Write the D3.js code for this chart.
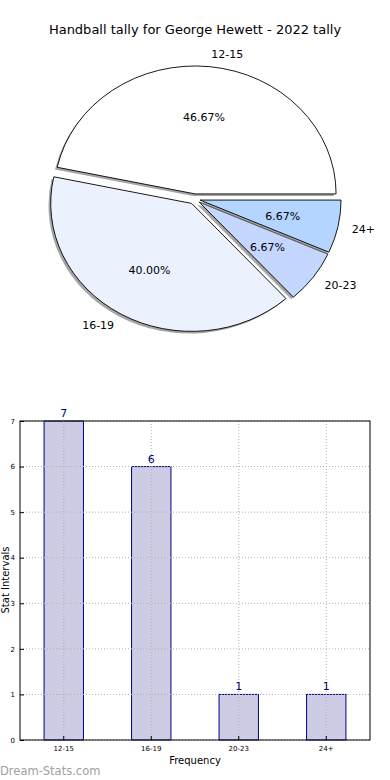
<!DOCTYPE html>
<html><head><meta charset="utf-8">
<script src="https://cdn.jsdelivr.net/npm/d3@7"></script>
<style>body{margin:0;background:#fff;} svg{display:block;font-family:"DejaVu Sans",sans-serif;}</style>
</head><body>
<svg id="c" width="390" height="780"></svg>
<script>
const categories = ["12-15","16-19","20-23","24+"];
const counts = [7,6,1,1];
const pieColors = ["#ffffff","#ebf2fe","#c4d8ff","#b3d5ff"];
const yTicks = [0,1,2,3,4,5,6,7];
const title = "Handball tally for George Hewett - 2022 tally";

const svg = d3.select("#c");
svg.append("text").attr("x",195).attr("y",34).attr("text-anchor","middle")
  .attr("font-size",13).attr("fill","#000").text(title);

// ---- Pie (elliptical, matplotlib-like) ----
const cx = 194.5, cy = 199, rx = 141, ry = 128, explode = 0.04;
const total = d3.sum(counts);
const pie = d3.pie().sort(null).startAngle(Math.PI/2).endAngle(Math.PI/2 - 2*Math.PI);
const arcs = pie(counts);
const arcGen = d3.arc().innerRadius(0).outerRadius(1);
const pg = svg.append("g");
function off(d, k){ const t=(d.startAngle+d.endAngle)/2; return [cx + k*rx*Math.sin(t), cy - k*ry*Math.cos(t)]; }
arcs.forEach((d,i)=>{
  const [ox,oy] = off(d, explode);
  const g = pg.append("g");
  g.append("path").attr("d", arcGen(d))
    .attr("transform",`translate(${ox-2.2},${oy+2.2}) scale(${rx},${ry})`)
    .attr("fill","#7f7f7f").attr("fill-opacity",0.7);
  g.append("path").attr("d", arcGen(d))
    .attr("transform",`translate(${ox},${oy}) scale(${rx},${ry})`)
    .attr("fill",pieColors[i]).attr("stroke","#000").attr("stroke-width",0.9)
    .attr("vector-effect","non-scaling-stroke").attr("stroke-linejoin","round");
});
arcs.forEach((d,i)=>{
  const t=(d.startAngle+d.endAngle)/2;
  const [ox,oy] = off(d, explode);
  const lx = ox + 1.1*rx*Math.sin(t), ly = oy - 1.1*ry*Math.cos(t);
  pg.append("text").attr("x",lx).attr("y",ly).attr("dy","0.35em")
    .attr("text-anchor", Math.sin(t)>0 ? "start":"end").attr("font-size",11).text(categories[i]);
  const px = ox + 0.6*rx*Math.sin(t), py = oy - 0.6*ry*Math.cos(t);
  pg.append("text").attr("x",px).attr("y",py).attr("dy","0.35em")
    .attr("text-anchor","middle").attr("font-size",11).text((counts[i]/total*100).toFixed(2)+"%");
});

// ---- Bar chart ----
const L=20,R=370,T=421,B=740;
const x = d3.scaleBand().domain(categories).range([L,R]).paddingInner(0.55).paddingOuter(0.275);
const y = d3.scaleLinear().domain([0,7]).range([B,T]);
const bg = svg.append("g");
// bars
bg.selectAll(".bar").data(categories).join("rect")
  .attr("x",d=>x(d)).attr("width",x.bandwidth())
  .attr("y",(d,i)=>y(counts[i])).attr("height",(d,i)=>B-y(counts[i]))
  .attr("fill","#ccccE5").attr("stroke","#000080").attr("stroke-width",1);
// grid over bars (matplotlib draws grid above)
bg.selectAll(".gx").data(categories).join("line").attr("y1",T).attr("y2",B)
  .attr("x1",d=>x(d)+x.bandwidth()/2).attr("x2",d=>x(d)+x.bandwidth()/2)
  .attr("stroke","#b0b0b0").attr("stroke-dasharray","1,2");
bg.selectAll(".gy").data(yTicks).join("line").attr("x1",L).attr("x2",R)
  .attr("y1",d=>y(d)).attr("y2",d=>y(d)).attr("stroke","#b0b0b0").attr("stroke-dasharray","1,2");
// value labels
bg.selectAll(".vl").data(categories).join("text")
  .attr("x",d=>x(d)+x.bandwidth()/2).attr("y",(d,i)=>y(counts[i])-4)
  .attr("text-anchor","middle").attr("font-size",11).attr("fill","#000080")
  .text((d,i)=>counts[i]);
// axes
const yAx = d3.axisLeft(y).tickValues(yTicks).tickSize(-4).tickPadding(5).tickFormat(d3.format("d"));
const yg = bg.append("g").attr("transform",`translate(${L},0)`).call(yAx);
const xAx = d3.axisBottom(x).tickSize(-4).tickPadding(6);
const xg = bg.append("g").attr("transform",`translate(0,${B})`).call(xAx);
[yg,xg].forEach(g=>{g.select(".domain").remove(); g.selectAll("text").attr("font-size",7).attr("font-family","DejaVu Sans").attr("fill","#000"); g.selectAll("line").attr("stroke","#000");});
bg.append("rect").attr("x",L).attr("y",T).attr("width",R-L).attr("height",B-T)
  .attr("fill","none").attr("stroke","#000").attr("stroke-width",1);
bg.append("text").attr("x",195).attr("y",764).attr("text-anchor","middle").attr("font-size",10).text("Frequency");
bg.append("text").attr("transform","translate(9,580) rotate(-90)").attr("text-anchor","middle").attr("font-size",10).text("Stat Intervals");
svg.append("text").attr("x",0).attr("y",775).attr("font-size",11.5).attr("fill","#a0a0a0").text("Dream-Stats.com");
</script>
</body></html>
